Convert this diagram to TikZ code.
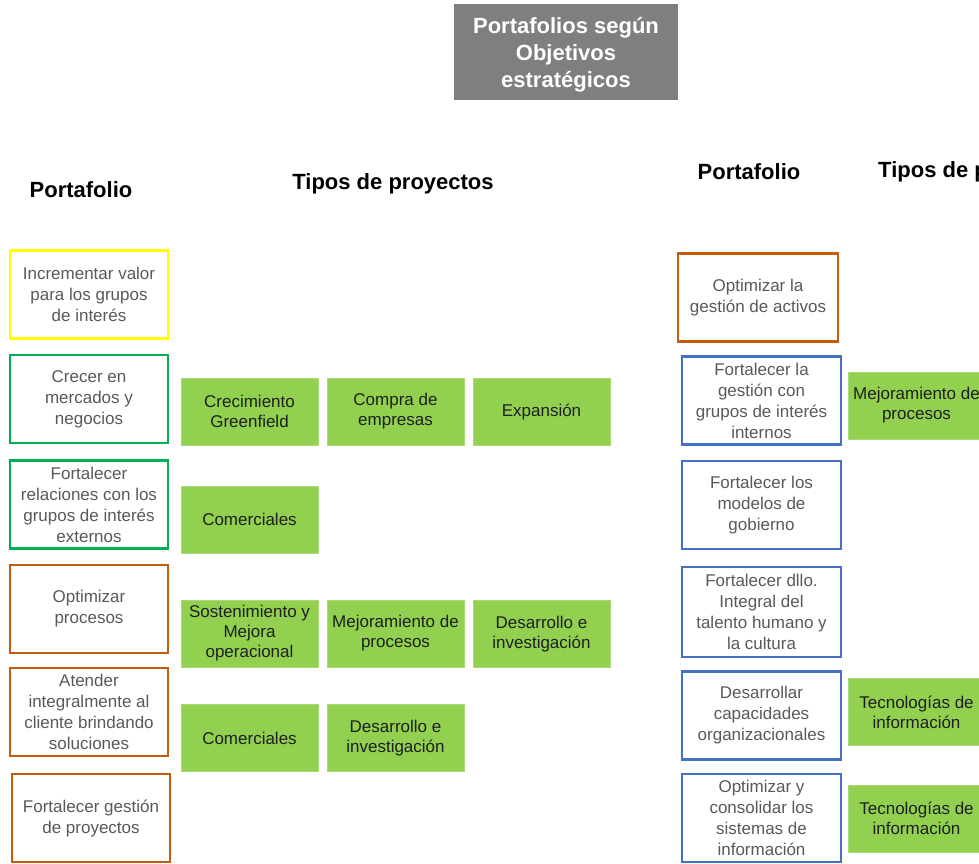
\documentclass[tikz,border=0pt]{standalone}
\usepackage{fontspec}
\setmainfont{Liberation Sans}
\definecolor{objyellow}{RGB}{255,255,0}
\definecolor{objgreen}{RGB}{0,176,80}
\definecolor{objorange}{RGB}{197,90,17}
\definecolor{objblue}{RGB}{68,114,196}
\definecolor{projgreen}{RGB}{146,208,80}
\definecolor{titlegray}{RGB}{127,127,127}
\definecolor{txtgray}{RGB}{89,89,89}
\tikzset{
  obj/.style={draw, line width=2.6pt, fill=white, text=txtgray,
    font=\fontsize{17}{21}\selectfont, align=center,
    minimum width=158pt, minimum height=88pt, inner sep=0pt},
  proj/.style={fill=projgreen, text=black!88, draw=projgreen!80!white, line width=0.6pt,
    font=\fontsize{17}{20}\selectfont, align=center,
    minimum width=137pt, minimum height=67pt, inner sep=0pt},
  hdr/.style={font=\fontsize{22}{26}\selectfont\bfseries, text=black, inner sep=0pt},
}
\begin{document}
\begin{tikzpicture}[x=1pt,y=-1pt]
\useasboundingbox (0,0) rectangle (979,863);
\clip (0,0) rectangle (979,863);

% title
\node[fill=titlegray, minimum width=224pt, minimum height=96pt, inner sep=0pt] (title) at (566,52) {};
\node[text=white, font=\fontsize{22}{27}\selectfont\bfseries, align=center, inner sep=0pt]
  (titletext) at (566,55) {Portafolios según\\Objetivos\\estratégicos};

% headers
\node[hdr] (hPortL) at (81,189.5) {Portafolio};
\node[hdr] (hTiposL) at (393,183.5) {Tipos de proyectos};
\node[hdr] (hPortR) at (749,172) {Portafolio};
\node[hdr, anchor=west] (hTiposR) at (878,172) {Tipos de proyectos};

% left objectives
\node[obj, draw=objyellow] (o1) at (89,294.5) {Incrementar valor\\para los grupos\\de interés};
\node[obj, draw=objgreen] (o2) at (89,399) {Crecer en\\mercados y\\negocios};
\node[obj, draw=objgreen] (o3) at (89,504.5) {Fortalecer\\relaciones con los\\grupos de interés\\externos};
\node[obj, draw=objorange] (o4) at (89,609) {Optimizar\\procesos};
\node[obj, draw=objorange] (o5) at (89,712) {Atender\\integralmente al\\cliente brindando\\soluciones};
\node[obj, draw=objorange] (o6) at (91,818) {Fortalecer gestión\\de proyectos};

% left project types
\node[proj] (p11) at (249.5,411.5) {Crecimiento\\Greenfield};
\node[proj] (p12) at (395.5,411.5) {Compra de\\empresas};
\node[proj] (p13) at (541.5,411.5) {Expansión};
\node[proj] (p21) at (249.5,519.5) {Comerciales};
\node[proj] (p31) at (249.5,633.5) {Sostenimiento y\\Mejora\\operacional};
\node[proj] (p32) at (395.5,633.5) {Mejoramiento de\\procesos};
\node[proj] (p33) at (541.5,634) {Desarrollo e\\investigación};
\node[proj] (p41) at (249.5,738) {Comerciales};
\node[proj] (p42) at (395.5,738) {Desarrollo e\\investigación};

% right objectives
\node[obj, draw=objorange, minimum width=160pt] (r1) at (758,297.5) {Optimizar la\\gestión de activos};
\node[obj, draw=objblue, minimum width=159pt] (r2) at (761.5,400.5) {Fortalecer la\\gestión con\\grupos de interés\\internos};
\node[obj, draw=objblue, minimum width=159pt] (r3) at (761.5,505) {Fortalecer los\\modelos de\\gobierno};
\node[obj, draw=objblue, minimum width=159pt, minimum height=90pt] (r4) at (761.5,612) {Fortalecer dllo.\\Integral del\\talento humano y\\la cultura};
\node[obj, draw=objblue, minimum width=159pt] (r5) at (761.5,715.5) {Desarrollar\\capacidades\\organizacionales};
\node[obj, draw=objblue, minimum width=159pt] (r6) at (761.5,818) {Optimizar y\\consolidar los\\sistemas de\\información};

% right project types
\node[proj] (q2) at (916.5,405.5) {Mejoramiento de\\procesos};
\node[proj] (q5) at (916.5,712) {Tecnologías de\\información};
\node[proj] (q6) at (916.5,818.5) {Tecnologías de\\información};
\end{tikzpicture}
\end{document}
